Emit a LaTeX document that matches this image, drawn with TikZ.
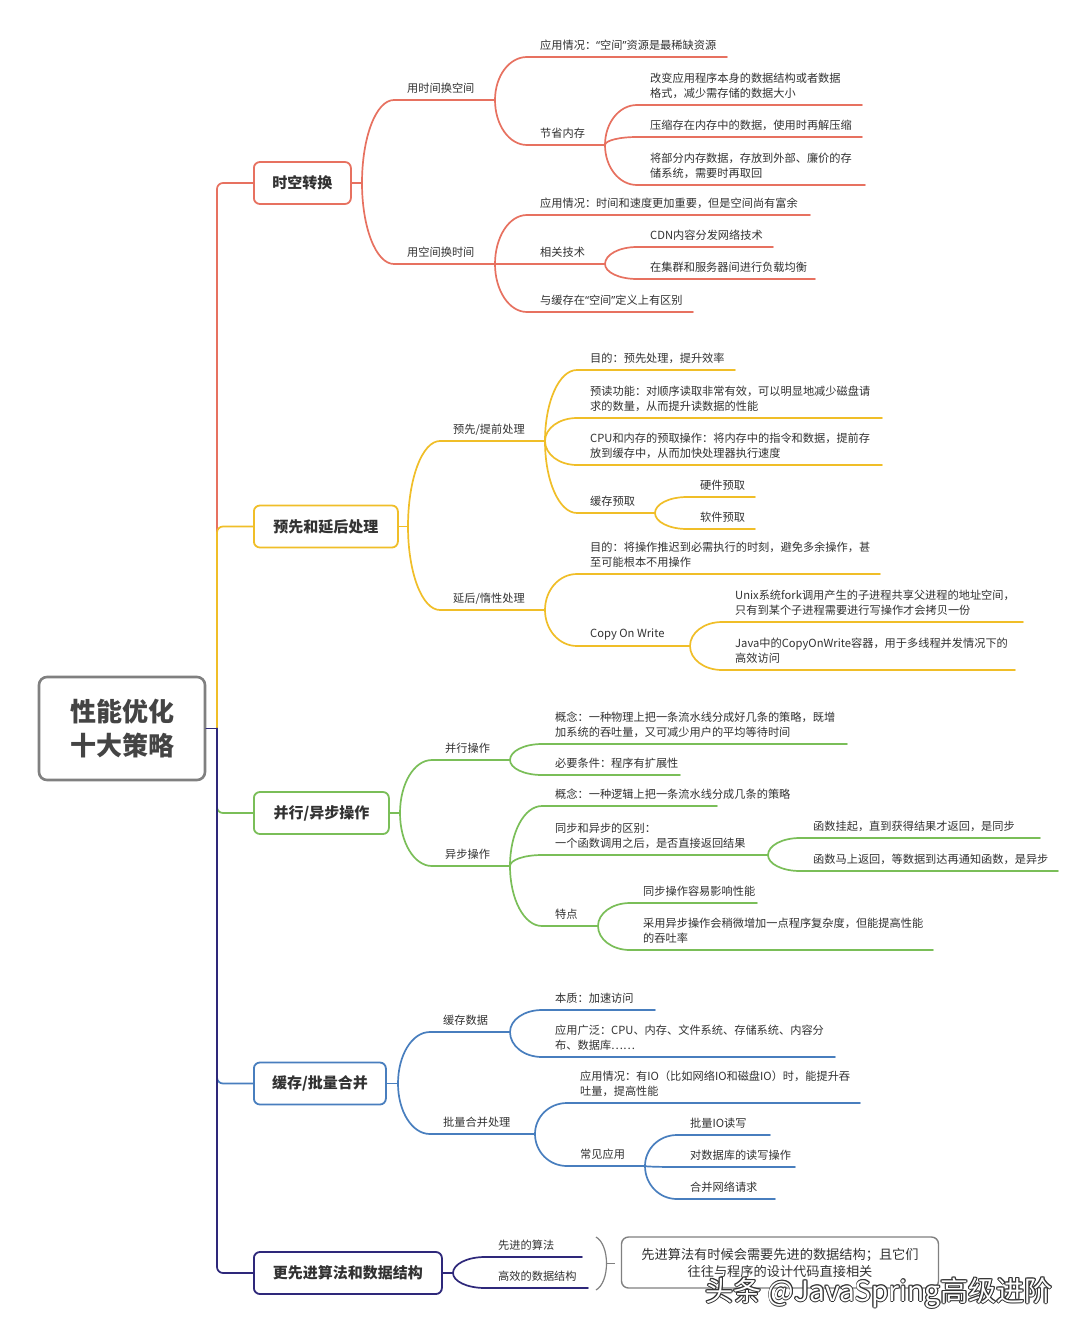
\documentclass[tikz,border=0pt]{standalone}
\usepackage{fontspec}
\setmainfont{Noto Sans CJK SC}
\newfontfamily\qfont{Noto Sans}
\newcommand\mmlq{{\qfont “}}
\newcommand\mmrq{{\qfont ”}}
\definecolor{cred}{RGB}{231,113,96}
\definecolor{cyel}{RGB}{240,190,40}
\definecolor{cgrn}{RGB}{122,190,88}
\definecolor{cblu}{RGB}{72,126,190}
\definecolor{cnav}{RGB}{46,40,122}
\definecolor{cgry}{RGB}{128,128,128}
\definecolor{txt}{RGB}{50,50,50}
\newcommand\mmkid[8]{%
  \pgfmathsetmacro\kya{#4+0.55*(#5-#4)}%
  \pgfmathsetmacro\kty{#5-11.5-7.5*(#7-1)}%
  \coordinate (#1-f) at (#3,#4);
  \coordinate (#1-s) at (#3+32,#5);
  \coordinate (#1-e) at (#6,#5);
  \draw[link,#2] (#1-f) .. controls (#3,\kya) and (#3+14,#5) .. (#1-s) -- (#1-e);
  \node[leaf,anchor=west] (#1) at (#3+45,\kty) {#8};
}
\begin{document}
\begin{tikzpicture}[x=1pt,y=-1pt,
  link/.style={line width=1.7pt, line cap=round},
  leaf/.style={inner sep=0pt, align=left, text=txt, font=\fontsize{11.2}{15}\selectfont},
  bbox/.style={draw=#1, line width=1.8pt, rounded corners=6pt, fill=white, minimum height=42pt, inner sep=0pt, anchor=west, text=txt, font=\fontsize{15}{18}\selectfont\bfseries},
  wmk/.style={inner sep=0pt, font=\fontsize{28}{30}\selectfont},
]
\fill[white] (0,0) rectangle (1080,1330);
\useasboundingbox (0,0) rectangle (1080,1330);

% root and main boxes
\node[draw=cgry, line width=2.6pt, rounded corners=8pt, fill=white, minimum width=166pt, minimum height=103pt, inner sep=0pt, align=center, text={rgb,255:red,68;green,68;blue,68}, font=\fontsize{26}{34}\selectfont\bfseries] (root) at (122,728.5) {性能优化\\十大策略};
\node[bbox=cred, minimum width=97pt] (B1) at (253,183) {时空转换};
\node[bbox=cyel, minimum width=144pt] (B2) at (253,526.5) {预先和延后处理};
\node[bbox=cgrn, minimum width=135pt] (B3) at (253,813) {并行/异步操作};
\node[bbox=cblu, minimum width=132pt] (B4) at (253,1083.5) {缓存/批量合并};
\node[bbox=cnav, minimum width=188pt] (B5) at (253,1273) {更先进算法和数据结构};

% trunk
\coordinate (t0) at (217,728.5);
\draw[link,cred,rounded corners=6pt] (t0) |- (B1.west);
\draw[link,cyel,rounded corners=6pt] (t0) |- (B2.west);
\draw[link,cgrn,rounded corners=6pt] (t0) |- (B3.west);
\draw[link,cblu,rounded corners=6pt] (t0) |- (B4.west);
\draw[link,cnav,rounded corners=6pt] (t0) |- (B5.west);
\draw[link,cnav] (root.east) -- (t0);

% stubs
\coordinate (B1f) at (362,183);
\coordinate (B2f) at (408,526.5);
\coordinate (B3f) at (400,813);
\coordinate (B4f) at (398,1083.5);
\coordinate (B5f) at (453,1273);
\draw[link,cred] (B1.east) -- (B1f);
\draw[link,cyel] (B2.east) -- (B2f);
\draw[link,cgrn] (B3.east) -- (B3f);
\draw[link,cblu] (B4.east) -- (B4f);
\draw[link,cnav] (B5.east) -- (B5f);

% red
\mmkid{a1}{cred}{362}{183}{100}{495}{1}{用时间换空间}
\mmkid{a2}{cred}{362}{183}{264}{495}{1}{用空间换时间}
\mmkid{a11}{cred}{495}{100}{57}{727}{1}{应用情况：\mmlq 空间\mmrq 资源是最稀缺资源}
\mmkid{a12}{cred}{495}{100}{145}{605}{1}{节省内存}
\mmkid{a121}{cred}{605}{145}{105}{862}{2}{改变应用程序本身的数据结构或者数据\\格式，减少需存储的数据大小}
\mmkid{a122}{cred}{605}{145}{137}{862}{1}{压缩存在内存中的数据，使用时再解压缩}
\mmkid{a123}{cred}{605}{145}{185}{865}{2}{将部分内存数据，存放到外部、廉价的存\\储系统，需要时再取回}
\mmkid{a21}{cred}{495}{264}{215}{810}{1}{应用情况：时间和速度更加重要，但是空间尚有富余}
\mmkid{a22}{cred}{495}{264}{264}{605}{1}{相关技术}
\mmkid{a23}{cred}{495}{264}{312}{693}{1}{与缓存在\mmlq 空间\mmrq 定义上有区别}
\mmkid{a221}{cred}{605}{264}{247}{773}{1}{CDN内容分发网络技术}
\mmkid{a222}{cred}{605}{264}{279}{815}{1}{在集群和服务器间进行负载均衡}

% yellow
\mmkid{b1}{cyel}{408}{526.5}{441}{545}{1}{预先/提前处理}
\mmkid{b2}{cyel}{408}{526.5}{610}{545}{1}{延后/惰性处理}
\mmkid{b11}{cyel}{545}{441}{370}{735}{1}{目的：预先处理，提升效率}
\mmkid{b12}{cyel}{545}{441}{418}{882}{2}{预读功能：对顺序读取非常有效，可以明显地减少磁盘请\\求的数量，从而提升读数据的性能}
\mmkid{b13}{cyel}{545}{441}{465}{882}{2}{CPU和内存的预取操作：将内存中的指令和数据，提前存\\放到缓存中，从而加快处理器执行速度}
\mmkid{b14}{cyel}{545}{441}{513}{655}{1}{缓存预取}
\mmkid{b141}{cyel}{655}{513}{497}{755}{1}{硬件预取}
\mmkid{b142}{cyel}{655}{513}{529}{755}{1}{软件预取}
\mmkid{b21}{cyel}{545}{610}{574}{880}{2}{目的：将操作推迟到必需执行的时刻，避免多余操作，甚\\至可能根本不用操作}
\mmkid{b22}{cyel}{545}{610}{646}{690}{1}{Copy On Write}
\mmkid{b221}{cyel}{690}{646}{622}{1023}{2}{Unix系统fork调用产生的子进程共享父进程的地址空间，\\只有到某个子进程需要进行写操作才会拷贝一份}
\mmkid{b222}{cyel}{690}{646}{670}{1015}{2}{Java中的CopyOnWrite容器，用于多线程并发情况下的\\高效访问}

% green
\mmkid{c1}{cgrn}{400}{813}{760}{510}{1}{并行操作}
\mmkid{c2}{cgrn}{400}{813}{866}{510}{1}{异步操作}
\mmkid{c11}{cgrn}{510}{760}{744}{847}{2}{概念：一种物理上把一条流水线分成好几条的策略，既增\\加系统的吞吐量，又可减少用户的平均等待时间}
\mmkid{c12}{cgrn}{510}{760}{775}{680}{1}{必要条件：程序有扩展性}
\mmkid{c21}{cgrn}{510}{866}{806}{717}{1}{概念：一种逻辑上把一条流水线分成几条的策略}
\mmkid{c22}{cgrn}{510}{866}{855}{768}{2}{同步和异步的区别：\\一个函数调用之后，是否直接返回结果}
\mmkid{c23}{cgrn}{510}{866}{926}{598}{1}{特点}
\mmkid{c221}{cgrn}{768}{855}{838}{1040}{1}{函数挂起，直到获得结果才返回，是同步}
\mmkid{c222}{cgrn}{768}{855}{871}{1058}{1}{函数马上返回，等数据到达再通知函数，是异步}
\mmkid{c231}{cgrn}{598}{926}{903}{757}{1}{同步操作容易影响性能}
\mmkid{c232}{cgrn}{598}{926}{950}{933}{2}{采用异步操作会稍微增加一点程序复杂度，但能提高性能\\的吞吐率}

% blue
\mmkid{d1}{cblu}{398}{1083.5}{1032}{510}{1}{缓存数据}
\mmkid{d2}{cblu}{398}{1083.5}{1134}{535}{1}{批量合并处理}
\mmkid{d11}{cblu}{510}{1032}{1010}{655}{1}{本质：加速访问}
\mmkid{d12}{cblu}{510}{1032}{1057}{835}{2}{应用广泛：CPU、内存、文件系统、存储系统、内容分\\布、数据库……}
\mmkid{d21}{cblu}{535}{1134}{1103}{860}{2}{应用情况：有IO（比如网络IO和磁盘IO）时，能提升吞\\吐量，提高性能}
\mmkid{d22}{cblu}{535}{1134}{1166}{645}{1}{常见应用}
\mmkid{d221}{cblu}{645}{1166}{1135}{770}{1}{批量IO读写}
\mmkid{d222}{cblu}{645}{1166}{1167}{795}{1}{对数据库的读写操作}
\mmkid{d223}{cblu}{645}{1166}{1199}{775}{1}{合并网络请求}

% navy
\mmkid{e1}{cnav}{453}{1273}{1257}{582}{1}{先进的算法}
\mmkid{e2}{cnav}{453}{1273}{1288}{588}{1}{高效的数据结构}

% summary bracket and box
\coordinate (brt) at (596,1237);
\coordinate (brb) at (596,1290);
\coordinate (brm) at (607,1263.5);
\coordinate (brx) at (615,1263.5);
\draw[line width=1.2pt, cgry] (brt) .. controls (610,1245) and (610,1282) .. (brb);
\draw[line width=1.2pt, cgry] (brm) -- (brx);
\node[draw=cgry, line width=1.4pt, rounded corners=7pt, fill=white, minimum width=317pt, minimum height=51pt, inner sep=0pt, align=center, text=txt, font=\fontsize{13.2}{17}\selectfont] (sum) at (780,1262.5) {先进算法有时候会需要先进的数据结构；且它们\\往往与程序的设计代码直接相关};

% watermark
\foreach \dx/\dy [count=\i] in {-0.9/0,0.9/0,0/-0.9,0/0.9,-0.65/-0.65,0.65/0.65,-0.65/0.65,0.65/-0.65}
  \node[wmk, text=black!80] (wm\i) at (879+\dx,1293+\dy) {头条 @JavaSpring高级进阶};
\node[wmk, text=white] (wm) at (879,1293) {头条 @JavaSpring高级进阶};
\end{tikzpicture}
\end{document}
